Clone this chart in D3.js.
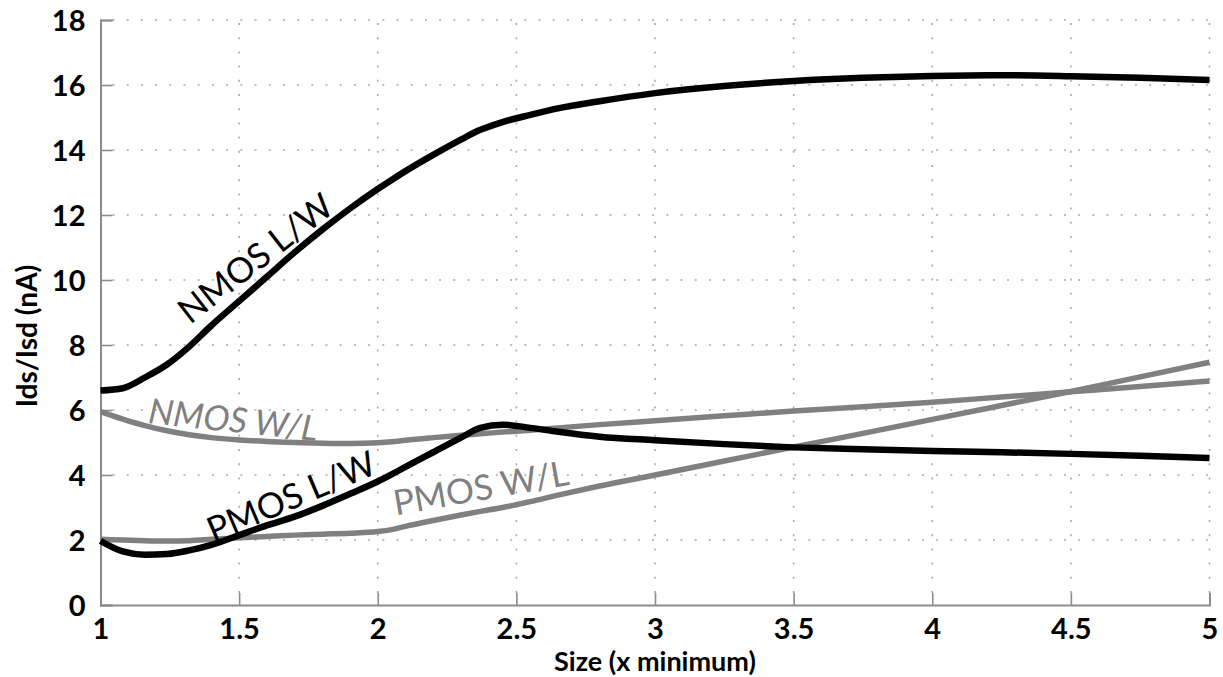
<!DOCTYPE html>
<html>
<head>
<meta charset="utf-8">
<script src="https://cdn.jsdelivr.net/npm/d3@7"></script>
<style>
  html, body { margin: 0; padding: 0; background: #fff; }
  svg { display: block; }
</style>
</head>
<body>
<svg id="chart" width="1223" height="677"></svg>
<script>
// Device size (in multiples of the minimum) at which each current was sampled
const sizes = [1, 1.08, 1.16, 1.24, 1.32, 1.4, 1.5, 1.6, 1.7, 1.8, 1.9, 2, 2.05, 2.1, 2.2, 2.3, 2.37, 2.45,
               2.55, 2.65, 2.8, 3, 3.25, 3.5, 3.75, 4, 4.25, 4.5, 4.75, 5];

// Drain current (nA) for each sizing strategy
const nmosLW = [6.6, 6.67, 7.0, 7.4, 7.95, 8.6, 9.35, 10.1, 10.85, 11.55, 12.2, 12.8, 13.08, 13.35, 13.85, 14.32,
                14.62, 14.86, 15.08, 15.28, 15.5, 15.75, 15.97, 16.12, 16.22, 16.28, 16.3, 16.27, 16.22, 16.15];
const nmosWL = [5.95, 5.72, 5.52, 5.36, 5.24, 5.15, 5.08, 5.03, 5.0, 4.98, 4.97, 4.99, 5.02, 5.07, 5.15, 5.22,
                5.27, 5.32, 5.38, 5.45, 5.55, 5.67, 5.82, 5.97, 6.1, 6.24, 6.4, 6.56, 6.72, 6.89];
const pmosLW = [1.97, 1.65, 1.55, 1.57, 1.68, 1.85, 2.15, 2.45, 2.72, 3.05, 3.42, 3.8, 4.02, 4.25, 4.7, 5.15,
                5.45, 5.55, 5.45, 5.33, 5.18, 5.07, 4.95, 4.85, 4.79, 4.74, 4.7, 4.65, 4.59, 4.52];
const pmosWL = [2.02, 2.0, 1.98, 1.97, 1.98, 2.02, 2.07, 2.11, 2.15, 2.18, 2.21, 2.26, 2.32, 2.42, 2.6, 2.77,
                2.88, 3.0, 3.18, 3.38, 3.66, 4.0, 4.43, 4.86, 5.28, 5.71, 6.14, 6.57, 7.02, 7.47];

const xTicks = [1, 1.5, 2, 2.5, 3, 3.5, 4, 4.5, 5];
const yTicks = [0, 2, 4, 6, 8, 10, 12, 14, 16, 18];

const xTitle = "Size (x minimum)";
const yTitle = "Ids/Isd (nA)";

const svg = d3.select("#chart");
const plotLeft = 100.5, plotRight = 1209.5, plotTop = 20, plotBottom = 605;

const x = d3.scaleLinear().domain([1, 5]).range([plotLeft, plotRight]);
const y = d3.scaleLinear().domain([0, 18]).range([plotBottom, plotTop]);

const gridColor = "#a8a8a8";
const axisColor = "#8c8c8c";
const tickLen = 12;
const font = "Lato, 'Open Sans', sans-serif";

// dotted grid
const grid = svg.append("g");
grid.selectAll("line.h").data(yTicks.filter(d => d > 0)).join("line")
  .attr("x1", plotLeft + tickLen).attr("x2", plotRight)
  .attr("y1", d => y(d)).attr("y2", d => y(d))
  .attr("stroke", gridColor).attr("stroke-width", 1.6)
  .attr("stroke-dasharray", "2,12.2");
grid.selectAll("line.v").data(xTicks.filter(d => d > 1)).join("line")
  .attr("x1", d => x(d)).attr("x2", d => x(d))
  .attr("y1", plotBottom - tickLen).attr("y2", plotTop)
  .attr("stroke", gridColor).attr("stroke-width", 1.6)
  .attr("stroke-dasharray", "2,12.2");

// axes with inward ticks
const yAxis = d3.axisLeft(y).tickValues(yTicks).tickSize(-tickLen).tickPadding(28).tickFormat(d3.format("d"));
const xAxis = d3.axisBottom(x).tickValues(xTicks).tickSize(-tickLen).tickPadding(19).tickFormat(d => String(d));

const gy = svg.append("g").attr("transform", `translate(${plotLeft},0)`).call(yAxis);
const gx = svg.append("g").attr("transform", `translate(0,${plotBottom})`).call(xAxis);

[gx, gy].forEach(g => {
  g.select(".domain").attr("stroke", axisColor).attr("stroke-width", 2);
  g.selectAll(".tick line").attr("stroke", axisColor).attr("stroke-width", 1.6);
  g.selectAll(".tick text")
    .attr("fill", "#000")
    .style("font-family", font)
    .style("font-weight", "bold")
    .style("font-size", "29px");
});
gy.selectAll(".tick text").attr("dx", 13).attr("dy", "0.36em");
gx.selectAll(".tick text").attr("dy", "0.5em");

// axis titles
svg.append("text")
  .attr("x", (plotLeft + plotRight) / 2).attr("y", 671)
  .attr("text-anchor", "middle")
  .style("font-family", font)
  .style("font-weight", "bold").style("font-size", "27px")
  .text(xTitle);

svg.append("text")
  .attr("transform", "translate(37,336) rotate(-90)")
  .attr("text-anchor", "middle")
  .style("font-family", font)
  .style("font-weight", "bold").style("font-size", "28px")
  .text(yTitle);

// curves
const line = vals => d3.line()
  .x((d, i) => x(sizes[i]))
  .y(d => y(d))
  .curve(d3.curveMonotoneX)(vals);

const gray = "#808080";
const series = [
  { vals: nmosWL, color: gray, width: 5.5 },
  { vals: pmosWL, color: gray, width: 5.5 },
  { vals: nmosLW, color: "#000", width: 6.5 },
  { vals: pmosLW, color: "#000", width: 6.5 }
];
svg.append("g").selectAll("path").data(series).join("path")
  .attr("d", d => line(d.vals))
  .attr("fill", "none")
  .attr("stroke", d => d.color)
  .attr("stroke-width", d => d.width)
  .attr("stroke-linejoin", "round");

// curve labels
const labels = [
  { text: "NMOS L/W", cx: 263, cy: 268, angle: -38, color: "#000", italic: false },
  { text: "NMOS W/L", cx: 232, cy: 432, angle: 6, color: gray, italic: true },
  { text: "PMOS L/W", cx: 296, cy: 508, angle: -23, color: "#000", italic: false },
  { text: "PMOS W/L", cx: 483, cy: 500, angle: -10, color: gray, italic: false }
];
svg.append("g").selectAll("text").data(labels).join("text")
  .attr("transform", d => `translate(${d.cx},${d.cy}) rotate(${d.angle})`)
  .attr("text-anchor", "middle")
  .attr("fill", d => d.color)
  .style("font-family", font)
  .style("font-size", "35px")
  .style("font-style", d => d.italic ? "italic" : "normal")
  .text(d => d.text);
</script>
</body>
</html>
